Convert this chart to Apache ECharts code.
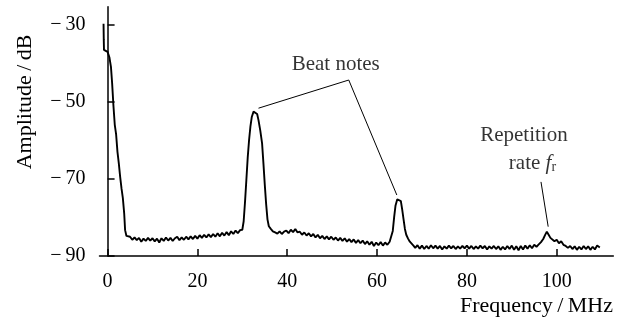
<!DOCTYPE html>
<html>
<head>
<meta charset="utf-8">
<script src="https://cdn.jsdelivr.net/npm/echarts@6/dist/echarts.min.js"></script>
<style>html,body{margin:0;padding:0;background:#fff;}#c{width:619px;height:326px;}</style>
</head>
<body>
<div id="c"></div>
<script>
// Spectrum data: [frequency MHz, amplitude dB]
const spectrum = [
[-0.9,-29.8],[-0.85,-34],[-0.8,-36.6],[-0.4,-36.8],[0,-37.1],[0.4,-38.5],[0.75,-41],[1.0,-45],[1.3,-51],[1.6,-56],[1.9,-58.5],[2.2,-63],[2.5,-66],[2.8,-69.5],[3.1,-72.5],[3.4,-75],[3.7,-79],[3.9,-83.3],[4.2,-84.8],[4.5,-85.3],
[5.0,-85.0],[5.5,-85.8],[6.0,-85.2],[6.5,-85.9],[7.0,-85.3],[7.5,-86.3],[8.0,-85.5],[8.5,-86.1],[9.0,-85.3],[9.5,-86.0],[10.0,-85.4],[10.5,-86.2],[11.0,-85.5],[11.5,-86.5],[12.0,-85.4],[12.5,-86.1],[13.0,-85.2],[13.5,-86.0],[14.0,-85.3],[14.5,-86.1],[15.0,-85.4],[15.5,-85.0],[16.0,-85.9],[16.5,-85.2],[17.0,-85.8],[17.5,-85.0],[18.0,-85.7],[18.5,-84.9],[19.0,-85.6],[19.5,-84.8],[20.0,-85.5],[20.5,-84.6],[21.0,-85.3],[21.5,-84.5],[22.0,-85.2],[22.5,-84.4],[23.0,-85.1],[23.5,-84.3],[24.0,-85.0],[24.5,-84.1],[25.0,-84.9],[25.5,-84.0],[26.0,-84.7],[26.5,-83.8],[27.0,-84.6],[27.5,-83.6],[28.0,-84.3],[28.5,-83.4],[29.0,-84.1],[29.5,-83.3],[30.0,-83.2],
[30.3,-81],[30.6,-76],[30.9,-70.3],[31.2,-64.5],[31.5,-60],[31.8,-56.5],[32.1,-54],[32.5,-52.6],[32.9,-52.3],[33.3,-53.2],[33.6,-54.8],[34.0,-57.5],[34.4,-60.8],[34.7,-66],[35.0,-71.5],[35.3,-76.5],[35.6,-80.5],[35.9,-82.3],[36.3,-82.9],[36.8,-83.6],[37.3,-83.9],[37.8,-84.2],[38.3,-83.6],[38.8,-84.3],[39.3,-83.7],[39.8,-83.4],[40.3,-84.1],[40.8,-83.2],[41.3,-83.8],[41.8,-83.0],[42.3,-83.9],[42.8,-83.7],[43.3,-84.5],[43.8,-83.9],[44.3,-84.7],[44.8,-84.1],[45.3,-84.9],[45.8,-84.3],[46.3,-85.2],[46.8,-84.5],[47.3,-85.4],[47.8,-84.8],[48.3,-85.6],[48.8,-84.9],[49.3,-85.7],[49.8,-85.0],[50.3,-85.8],[50.8,-85.2],[51.3,-86.0],[51.8,-85.3],[52.3,-86.1],[52.8,-85.4],[53.3,-86.3],[53.8,-85.6],[54.3,-86.4],[54.8,-85.7],[55.3,-86.6],[55.8,-85.9],[56.3,-86.7],[56.8,-86.0],[57.3,-86.9],[57.8,-86.2],[58.3,-87.1],[58.8,-86.3],[59.3,-87.4],[59.8,-86.5],[60.3,-87.2],[60.8,-86.4],[61.3,-87.3],[61.8,-86.5],[62.3,-87.1],[62.8,-86.3],[63.2,-86.6],
[63.5,-83.5],[63.8,-80],[64.1,-77],[64.5,-75.3],[64.9,-74.8],[65.3,-75.8],[65.6,-78],[65.9,-80.5],[66.2,-83],[66.5,-84.5],[66.9,-85.5],[67.3,-86.3],[67.7,-86.8],[68.1,-87.3],
[68.5,-87.9],[69.0,-87.2],[69.5,-88.1],[70.0,-87.3],[70.5,-88.2],[71.0,-87.4],[71.5,-88.1],[72.0,-87.2],[72.5,-88.0],[73.0,-87.3],[73.5,-88.1],[74.0,-87.4],[74.5,-88.3],[75.0,-87.5],[75.5,-88.1],[76.0,-87.3],[76.5,-88.0],[77.0,-87.4],[77.5,-88.2],[78.0,-87.5],[78.5,-88.1],[79.0,-87.4],[79.5,-88.0],[80.0,-87.3],[80.5,-88.1],[81.0,-87.4],[81.5,-88.2],[82.0,-87.5],[82.5,-88.1],[83.0,-87.3],[83.5,-88.0],[84.0,-87.4],[84.5,-88.3],[85.0,-87.5],[85.5,-88.1],[86.0,-87.4],[86.5,-88.2],[87.0,-87.5],[87.5,-88.4],[88.0,-87.6],[88.5,-88.3],[89.0,-87.4],[89.5,-88.2],[90.0,-87.3],[90.5,-88.4],[91.0,-87.5],[91.5,-88.5],[92.0,-87.4],[92.5,-88.3],[93.0,-87.3],[93.5,-88.1],[94.0,-87.2],[94.5,-88.0],[95.0,-87.1],[95.5,-87.6],[96.0,-87.0],[96.5,-86.4],[97.0,-85.6],[97.4,-84.6],[97.8,-83.7],[98.2,-84.5],[98.6,-85.3],[99.0,-85.8],[99.5,-86.2],[100.0,-85.8],[100.5,-86.7],[101.0,-86.2],[101.5,-87.1],[102.0,-87.4],[102.5,-87.9],[103.0,-87.4],[103.5,-88.2],[104.0,-87.5],[104.5,-88.4],[105.0,-87.6],[105.5,-88.3],[106.0,-87.4],[106.5,-88.2],[107.0,-87.5],[107.5,-88.4],[108.0,-87.6],[108.5,-88.3],[109.0,-87.3],[109.6,-87.8]
];
const xTicks = [0, 20, 40, 60, 80, 100];
const yTicks = [-90, -70, -50, -30];
// Annotation leader lines (data coordinates)
const beatLeader = [[33.6,-51.7],[53.7,-44.4],[64.4,-74.2]];
const repLeader = [[96.5,-70.8],[98.1,-82.4]];
// Annotation text anchors (data coordinates)
const annotations = [
  [50.8, -40.5, 'Beat notes'],
  [92.7, -58.7, 'Repetition'],
  [94.6, -65.9, 'rate']
];

const FONT = '"Liberation Serif", "DejaVu Serif", serif';
const chart = echarts.init(document.getElementById('c'), null, {renderer: 'canvas'});
const minus = v => (v < 0 ? '\u2212\u2009' + Math.abs(v) : String(v));

chart.setOption({
  animation: false,
  backgroundColor: '#fff',
  grid: {left: 99.5, right: 5.7, top: 6.7, bottom: 70, containLabel: false},
  xAxis: {
    type: 'value', min: -1.8, max: 112.6,
    splitLine: {show: false},
    axisLine: {lineStyle: {color: '#000', width: 1.5}},
    axisTick: {inside: true, length: 7, lineStyle: {color: '#000', width: 1.5}, customValues: xTicks},
    axisLabel: {customValues: xTicks, formatter: minus, color: '#000', fontFamily: FONT, fontSize: 20, margin: 16}
  },
  yAxis: {
    type: 'value', min: -90, max: -25.4,
    splitLine: {show: false},
    axisLine: {show: true, lineStyle: {color: '#000', width: 1.5}},
    axisTick: {show: true, inside: true, length: 7, lineStyle: {color: '#000', width: 1.5}, customValues: yTicks},
    axisLabel: {customValues: yTicks, formatter: minus, color: '#000', fontFamily: FONT, fontSize: 20, margin: 14}
  },
  series: [
    {type: 'line', data: spectrum, showSymbol: false, symbol: 'none', lineStyle: {color: '#000', width: 1.9}, z: 3},
    {type: 'line', data: beatLeader, showSymbol: false, symbol: 'none', lineStyle: {color: '#000', width: 1}, z: 2},
    {type: 'line', data: repLeader, showSymbol: false, symbol: 'none', lineStyle: {color: '#000', width: 1}, z: 2},
    {type: 'scatter', data: annotations, symbolSize: 0,
     label: {show: true, position: 'inside', color: '#000', fontFamily: FONT, fontSize: 21,
       formatter: p => p.value[2] === 'rate' ? 'rate {i|f}{s|r}' : p.value[2],
       rich: {
         i: {fontStyle: 'italic', fontFamily: FONT, fontSize: 21, color: '#000'},
         s: {fontFamily: FONT, fontSize: 14, color: '#000', verticalAlign: 'bottom', padding: [8, 0, 0, 0]}
       }}}
  ],
  graphic: [
    {type: 'text', x: 25, y: 102, rotation: Math.PI / 2,
     style: {text: 'Amplitude\u2009/\u2009dB', fill: '#000', font: '22px ' + FONT, align: 'center', verticalAlign: 'middle'}},
    {type: 'text', x: 613, y: 306,
     style: {text: 'Frequency\u2009/\u2009MHz', fill: '#000', font: '22px ' + FONT, align: 'right', verticalAlign: 'middle'}}
  ]
});
</script>
</body>
</html>
